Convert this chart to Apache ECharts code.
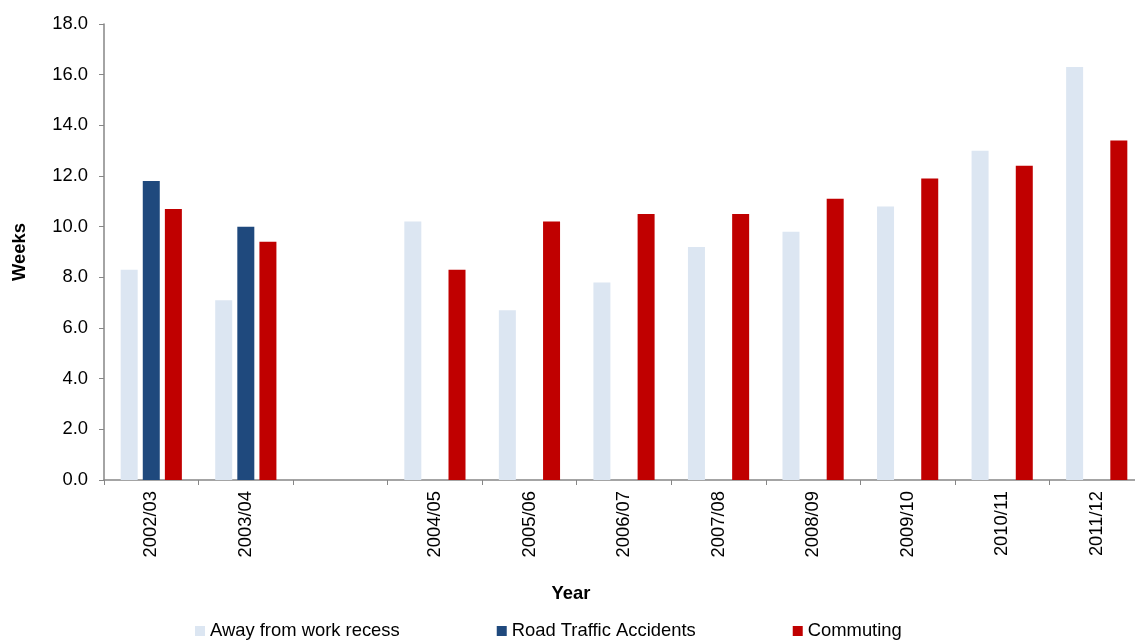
<!DOCTYPE html>
<html>
<head>
<meta charset="utf-8">
<script src="https://cdn.jsdelivr.net/npm/echarts@6/dist/echarts.min.js"></script>
<style>
html, body { margin: 0; padding: 0; background: #fff; overflow: hidden; }
#chart { width: 1144px; height: 643px; }
</style>
</head>
<body>
<div id="chart"></div>
<script>
var years = ['2002/03', '2003/04', '', '2004/05', '2005/06', '2006/07', '2007/08', '2008/09', '2009/10', '2010/11', '2011/12']
var awayFromWork = [8.3, 7.1, null, 10.2, 6.7, 7.8, 9.2, 9.8, 10.8, 13.0, 16.3]
var roadTraffic = [11.8, 10.0, null, null, null, null, null, null, null, null, null]
var commuting = [10.7, 9.4, null, 8.3, 10.2, 10.5, 10.5, 11.1, 11.9, 12.4, 13.4]

var font = 'Liberation Sans, Arial, sans-serif'
var axisGrey = '#868686'
var fs = 18.4

// plot runs a little past the window's right edge, as in the original
var myChart = echarts.init(document.getElementById('chart'))
myChart.setOption({
	animation: false,
	textStyle: { fontFamily: font },
	grid: {
		left: 104,
		right: 0,
		top: 24,
		bottom: 163
	},
	legend: {
		left: 195,
		bottom: 3,
		padding: 0,
		itemWidth: 10,
		itemHeight: 10,
		itemGap: 97,
		icon: 'rect',
		textStyle: { fontSize: fs, color: '#000', fontFamily: font },
		data: ['Away from work recess', 'Road Traffic Accidents', 'Commuting']
	},
	xAxis: {
		type: 'category',
		data: years,
		name: 'Year',
		nameLocation: 'middle',
		nameGap: 105,
		nameTextStyle: { fontSize: fs, fontWeight: 'bold', color: '#000', padding: [0, 106, 0, 0] },
		axisLine: { lineStyle: { color: axisGrey, width: 1.5 } },
		axisTick: { show: true, length: 5, lineStyle: { color: axisGrey } },
		axisLabel: { rotate: 90, fontSize: fs, color: '#000', margin: 11, interval: 0 }
	},
	yAxis: {
		type: 'value',
		min: 0,
		max: 18,
		interval: 2,
		name: 'Weeks',
		nameLocation: 'middle',
		nameGap: 75,
		nameTextStyle: { fontSize: fs, fontWeight: 'bold', color: '#000' },
		axisLine: { show: true, lineStyle: { color: axisGrey, width: 1.5 } },
		axisTick: { show: true, length: 5, lineStyle: { color: axisGrey } },
		splitLine: { show: false },
		axisLabel: {
			fontSize: fs,
			color: '#000',
			margin: 16,
			formatter: function (v) { return v.toFixed(1) }
		}
	},
	series: [{
		name: 'Away from work recess',
		type: 'bar',
		barWidth: 17,
		barGap: '30%',
		itemStyle: { color: '#dce6f2' },
		data: awayFromWork
	}, {
		name: 'Road Traffic Accidents',
		type: 'bar',
		barWidth: 17,
		barGap: '30%',
		itemStyle: { color: '#1f497d' },
		data: roadTraffic
	}, {
		name: 'Commuting',
		type: 'bar',
		barWidth: 17,
		barGap: '30%',
		itemStyle: { color: '#c00000' },
		data: commuting
	}]
})
</script>
</body>
</html>
